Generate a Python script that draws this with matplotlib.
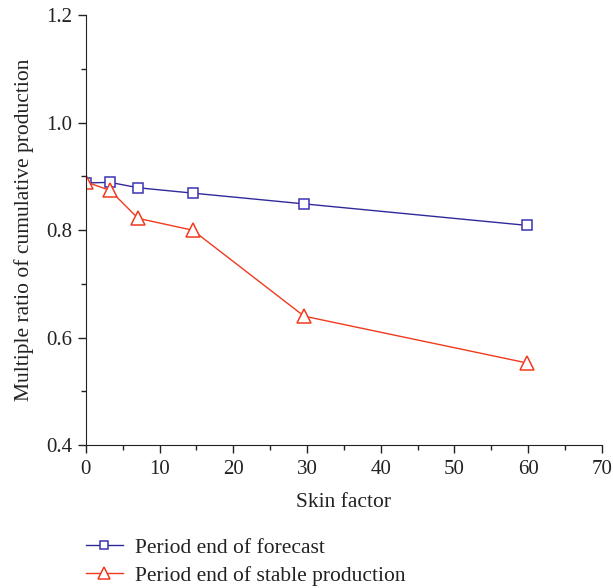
import matplotlib
matplotlib.use('Agg')
import matplotlib.pyplot as plt
from matplotlib.ticker import MultipleLocator

plt.rcParams['font.family'] = ['Liberation Serif', 'DejaVu Serif']

# skin factor vs multiple ratio of cumulative production
skin = [0, 3.3, 7.1, 14.5, 29.6, 59.8]
forecast = [0.888, 0.889, 0.879, 0.869, 0.849, 0.809]
stable = [0.890, 0.874, 0.822, 0.800, 0.640, 0.553]

fig = plt.figure(figsize=(6.13, 5.88), dpi=100)
ax = fig.add_axes([0.140, 0.243, 0.842, 0.731])

ax.plot(skin, forecast, '-', color='#2f2a9a', lw=1.0, marker='s', ms=7.5,
        mfc='white', mec='#3a33b0', mew=1.1, label='Period end of forecast')
ax.plot(skin, stable, '-', color='#f03a1e', lw=1.0, marker='^', ms=10,
        mfc='white', mec='#f03a1e', mew=1.1, label='Period end of stable production')

ax.set_xlim(0, 70)
ax.set_ylim(0.4, 1.2)
ax.xaxis.set_major_locator(MultipleLocator(10))
ax.xaxis.set_minor_locator(MultipleLocator(5))
ax.yaxis.set_major_locator(MultipleLocator(0.2))
ax.yaxis.set_minor_locator(MultipleLocator(0.1))
ax.yaxis.set_major_formatter(plt.FormatStrFormatter('%.1f'))

ax.spines['top'].set_visible(False)
ax.spines['right'].set_visible(False)
ax.spines['left'].set_color('#222222')
ax.spines['bottom'].set_color('#222222')
ax.tick_params(which='major', direction='out', length=6, width=1, labelsize=15, colors='#222222')
ax.tick_params(which='minor', direction='out', length=3.5, width=1, colors='#222222')
ax.tick_params(axis='x', pad=5)

ax.set_xlabel('Skin factor', fontsize=15.5, labelpad=10, color='#222222')
ax.set_ylabel('Multiple ratio of cumulative production', fontsize=15.5, labelpad=9, color='#222222')

leg = ax.legend(loc='upper left', bbox_to_anchor=(-0.037, -0.17), frameon=False,
                fontsize=15.5, handlelength=1.7, handletextpad=0.55,
                labelspacing=0.38, markerscale=0.8)
for t in leg.get_texts():
    t.set_color('#222222')

fig.savefig('out.png', dpi=100)
